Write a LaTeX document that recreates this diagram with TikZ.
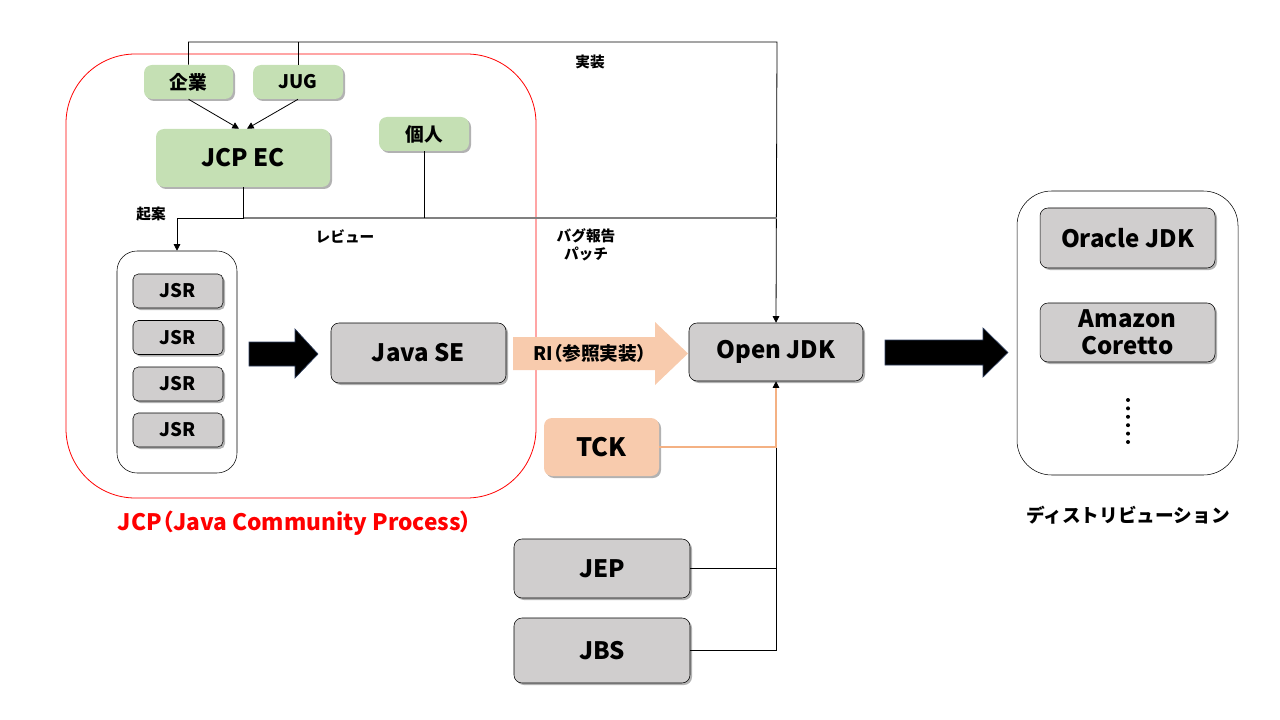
\documentclass[tikz,border=0pt]{standalone}
\usepackage{fontspec}
\setmainfont{Noto Sans CJK JP}
\newfontfamily\paltfont{Noto Sans CJK JP}[CharacterWidth=AlternateProportional]
\usetikzlibrary{arrows.meta,shadows}

\definecolor{jcpgreen}{HTML}{C5E0B4}
\definecolor{boxgray}{HTML}{D0CECE}
\definecolor{riorange}{HTML}{F8CBAD}
\definecolor{tckorange}{HTML}{F4B183}
\definecolor{arrowedge}{HTML}{2F3F5F}

\tikzset{
  boxsize/.style 2 args={minimum width=#1*0.75pt, minimum height=#2*0.75pt},
  boxshadow/.style={drop shadow={shadow xshift=1.5pt, shadow yshift=-1.5pt, opacity=0.3, fill=black}},
  greenbox/.style={boxshadow, fill=jcpgreen, rounded corners=6pt, inner sep=0pt,
    font=\bfseries\fontsize{14}{16}\selectfont},
  graybox/.style={boxshadow, fill=boxgray, draw=black, rounded corners=6pt, inner sep=0pt,
    align=center, font=\bfseries\fontsize{18}{21}\selectfont},
  jsrbox/.style={graybox, rounded corners=4pt, font=\bfseries\fontsize{14}{16}\selectfont},
  holder/.style={draw=black, fill=white, rounded corners=15pt},
  note/.style={align=center, font=\bfseries\fontsize{11}{13.5}\selectfont},
  link/.style={draw=black, line width=0.6pt},
  blockarrow/.style={fill=black, draw=arrowedge, line width=0.5pt},
  >={Triangle[length=5pt, width=5pt]},
}

\begin{document}
\begin{tikzpicture}[x=0.75pt, y=-0.75pt]
    \useasboundingbox (0,0) rectangle (1280,720);

    \node[draw=red, line width=0.6pt, rounded corners=52pt, boxsize={470}{444}] (jcp) at (301,276) {};
    \node[text=red, font=\paltfont\bfseries\fontsize{17}{20}\selectfont] (jcplabel) at (295,523) {JCP（Java Community Process）};

    \node[greenbox, boxsize={89}{34}] (kigyo) at (188.5,82) {企業};
    \node[greenbox, boxsize={90}{34}] (jug) at (298,82) {JUG};
    \node[greenbox, boxsize={174}{58}, font=\bfseries\fontsize{18}{21}\selectfont] (jcpec) at (243,158) {JCP EC};
    \node[greenbox, boxsize={90}{34}] (kojin) at (424,134) {個人};

    \node[holder, boxsize={120}{222}] (jsrs) at (177,362) {};
    \foreach \y/\n in {291/1, 337.5/2, 384/3, 430/4}
      \node[jsrbox, boxsize={90}{34}] (jsr\n) at (178,\y) {JSR};

    \node[graybox, boxsize={175}{60}] (javase) at (418.5,353) {Java SE};
    \node[graybox, boxsize={174}{58}] (openjdk) at (776,352) {Open JDK};
    \node[greenbox, fill=riorange, boxsize={115}{58}, font=\bfseries\fontsize{19}{21}\selectfont] (tck) at (601.5,447) {TCK};
    \node[graybox, boxsize={176}{59}] (jep) at (602,568.5) {JEP};
    \node[graybox, boxsize={176}{65}] (jbs) at (602,650.5) {JBS};

    \node[holder, rounded corners=26pt, boxsize={221}{284}] (dist) at (1127.5,333) {};
    \node[graybox, boxsize={175}{60}] (oracle) at (1127.5,238) {Oracle JDK};
    \node[graybox, boxsize={175}{59}, font=\bfseries\fontsize{18}{20}\selectfont] (amazon) at (1127.5,332.5) {Amazon\\Coretto};
    \foreach \i in {0,...,5}
      \fill (1128,400+8.4*\i) circle (1.5pt);
    \node[font=\bfseries\fontsize{14}{16}\selectfont] (distlabel) at (1128,515) {ディストリビューション};

    % block arrows
    \filldraw[blockarrow] (249,342) -- (295,342) -- (295,329) -- (318,354) -- (295,378) -- (295,366) -- (249,366) -- cycle;
    \fill[riorange] (513,337) -- (655,337) -- (655,322) -- (688,353.5) -- (655,385) -- (655,370) -- (513,370) -- cycle;
    \node[font=\paltfont\bfseries\fontsize{14}{16}\selectfont] (ri) at (590,353) {RI（参照実装）};
    \filldraw[blockarrow] (885,340) -- (983,340) -- (983,328) -- (1008,352.5) -- (983,377) -- (983,365) -- (885,365) -- cycle;

    \coordinate (impl) at (777,42);
    \coordinate (review) at (777,218);
    \draw[link, ->] (kigyo.north) |- (impl) -- (openjdk.north);
    \draw[link] (jug.north) -- (jug.north |- impl);
    \draw[link, ->] (kigyo.south) -- ([xshift=-3pt]jcpec.north);
    \draw[link, ->] (jug.south) -- ([xshift=3pt]jcpec.north);
    \draw[black!50, line width=1.2pt] (jcpec.south |- review) -- (review);
    \draw[link, ->] (jcpec.south) |- (jsrs.north |- review) -- (jsrs.north);
    \draw[link] (kojin.south) -- (kojin.south |- review);

    \draw[link, ->] (jbs.east) -| (openjdk.south);
    \draw[link] (jep.east) -- (jep.east -| openjdk.south);
    \draw[tckorange, line width=0.8pt] (tck.east) -| ([yshift=-5pt]openjdk.south);

    \node[note] (kian) at (151,214) {起案};
    \node[note] (rev) at (345,237) {レビュー};
    \node[note] (jisso) at (590,62) {実装};
    \node[note] (bug) at (586,245) {バグ報告\\パッチ};
\end{tikzpicture}
\end{document}
